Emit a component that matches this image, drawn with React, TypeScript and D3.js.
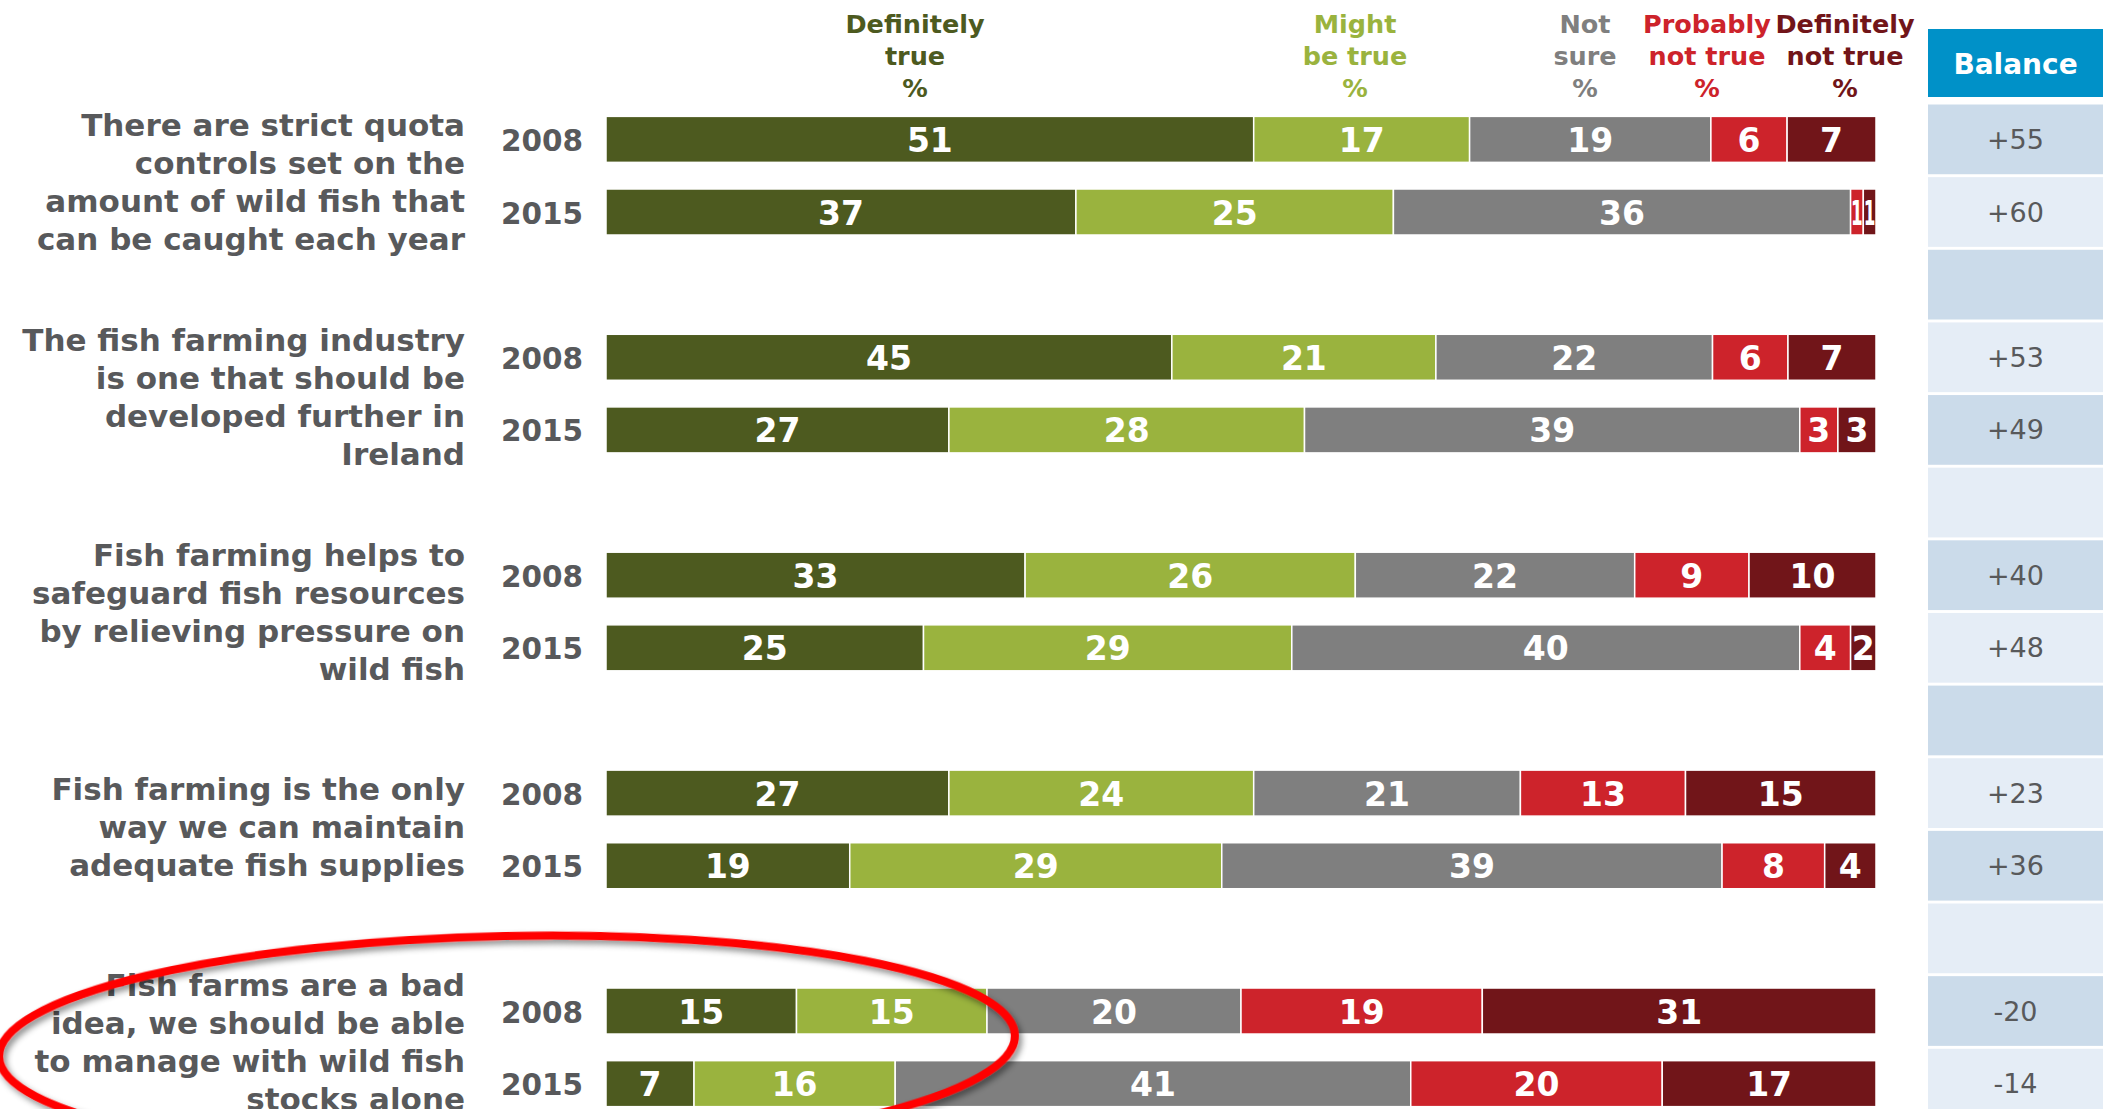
import React from "react";
import * as d3 from "d3";

// ---------- data ----------
const questions: string[][] = [
  ["There are strict quota", "controls set on the", "amount of wild fish that", "can be caught each year"],
  ["The fish farming industry", "is one that should be", "developed further in", "Ireland"],
  ["Fish farming helps to", "safeguard fish resources", "by relieving pressure on", "wild fish"],
  ["Fish farming is the only", "way we can maintain", "adequate fish supplies"],
  ["Fish farms are a bad", "idea, we should be able", "to manage with wild fish", "stocks alone"],
];
const years = ["2008", "2015"];
const categories = ["Definitely true", "Might be true", "Not sure", "Probably not true", "Definitely not true"];
const headerLines: string[][] = [
  ["Definitely", "true", "%"],
  ["Might", "be true", "%"],
  ["Not", "sure", "%"],
  ["Probably", "not true", "%"],
  ["Definitely", "not true", "%"],
];
// one value per bar: q1-2008, q1-2015, q2-2008, ...
const definitelyTrue = [51, 37, 45, 27, 33, 25, 27, 19, 15, 7];
const mightBeTrue = [17, 25, 21, 28, 26, 29, 24, 29, 15, 16];
const notSure = [19, 36, 22, 39, 22, 40, 21, 39, 20, 41];
const probablyNotTrue = [6, 1, 6, 3, 9, 4, 13, 8, 19, 20];
const definitelyNotTrue = [7, 1, 7, 3, 10, 2, 15, 4, 31, 17];
const balance = ["+55", "+60", "+53", "+49", "+40", "+48", "+23", "+36", "-20", "-14"];
const balanceTitle = "Balance";

// ---------- styles / layout ----------
const W = 2108;
const H = 1109;
const colors = ["#4d5a1f", "#9ab33e", "#7f7f7f", "#cd232b", "#711519"];
const labelGray = "#58595b";
const FONT = "'DejaVu Sans', Verdana, sans-serif";
const barX0 = 606;
const barX1 = 1876;
const barH = 46;
const headerCenters = [915, 1355, 1585, 1707, 1845];
const balX0 = 1928;
const balX1 = 2103;
const labelTop = 182;
const labelStep = 215;
const labelLine = 38.2;

export default function App() {
  React.useEffect(() => {
    document.body.style.margin = "0";
  }, []);

  const series = [definitelyTrue, mightBeTrue, notSure, probablyNotTrue, definitelyNotTrue];
  const nRows = questions.length * 3 - 1;
  const rowScale = d3
    .scaleBand<number>()
    .domain(d3.range(nRows))
    .range([104.5, 104.5 + 72.43 * nRows])
    .paddingInner(0.04);
  const bw = rowScale.bandwidth();
  const rowCenter = (r: number) => (rowScale(r) as number) + bw / 2;

  const bars = questions.flatMap((q, qi) =>
    years.map((yr, yi) => {
      const idx = qi * 2 + yi;
      const vals = series.map((s) => s[idx]);
      const total = d3.sum(vals);
      const x = d3.scaleLinear().domain([0, total]).range([barX0, barX1]);
      const cum = d3.cumsum(vals);
      const segs = vals.map((v, ci) => ({ v, ci, x0: x(cum[ci] - v), x1: x(cum[ci]) }));
      return { qi, yi, yr, idx, row: qi * 3 + yi, segs };
    })
  );

  const valueFont = 33;

  return (
    <svg width={W} height={H} style={{ display: "block", position: "absolute", left: 0, top: 0 }} fontFamily={FONT}>
      <defs>
        <filter id="shadow" x="-10%" y="-30%" width="120%" height="160%">
          <feDropShadow dx="3" dy="4" stdDeviation="3" floodColor="#000" floodOpacity="0.45" />
        </filter>
      </defs>
      <rect width={W} height={H} fill="#fff" />

      {/* header labels */}
      {headerLines.map((lines, ci) => (
        <text key={"h" + ci} x={headerCenters[ci]} textAnchor="middle" fontWeight="bold" fontSize={25.5} fill={colors[ci]}>
          {lines.map((l, li) => (
            <tspan key={li} x={headerCenters[ci]} y={33 + li * 32}>
              {l}
            </tspan>
          ))}
        </text>
      ))}

      {/* balance header */}
      <rect x={balX0} y={29} width={balX1 - balX0} height={68} fill="#0091c8" />
      <text x={(balX0 + balX1) / 2} y={64} textAnchor="middle" dominantBaseline="central" fontWeight="bold" fontSize={28} fill="#fff">
        {balanceTitle}
      </text>

      {/* balance cells */}
      {d3.range(nRows).map((r) => (
        <rect key={"c" + r} x={balX0} y={rowScale(r)} width={balX1 - balX0} height={bw} fill={r % 2 === 0 ? "#cbdbea" : "#e5edf6"} />
      ))}
      {bars.map((b) => (
        <text
          key={"bal" + b.idx}
          x={(balX0 + balX1) / 2}
          y={rowCenter(b.row)}
          textAnchor="middle"
          dominantBaseline="central"
          fontSize={27}
          fill={labelGray}
        >
          {balance[b.idx]}
        </text>
      ))}

      {/* question labels */}
      {questions.map((lines, qi) => {
        const mid = labelTop + qi * labelStep;
        return (
          <text key={"q" + qi} textAnchor="end" fontWeight="bold" fontSize={31} fill={labelGray}>
            {lines.map((l, li) => (
              <tspan key={li} x={465} y={mid + (li - (lines.length - 1) / 2) * labelLine} dominantBaseline="central">
                {l}
              </tspan>
            ))}
          </text>
        );
      })}

      {/* year labels */}
      {bars.map((b) => (
        <text
          key={"y" + b.idx}
          x={583}
          y={rowCenter(b.row) + 1.5}
          textAnchor="end"
          dominantBaseline="central"
          fontWeight="bold"
          fontSize={29.5}
          fill={labelGray}
        >
          {b.yr}
        </text>
      ))}

      {/* bars */}
      {bars.map((b) => (
        <g key={"b" + b.idx}>
          {b.segs.map((s) => (
            <rect
              key={s.ci}
              x={s.x0}
              y={rowCenter(b.row) - barH / 2}
              width={s.x1 - s.x0}
              height={barH}
              fill={colors[s.ci]}
              stroke="#fff"
              strokeWidth={1.5}
            />
          ))}
          {b.segs.map((s) => {
            const w = s.x1 - s.x0;
            const txt = String(s.v);
            const est = txt.length * 0.696 * valueFont;
            const squeeze = est > w - 2;
            return (
              <text
                key={"t" + s.ci}
                x={(s.x0 + s.x1) / 2}
                y={rowCenter(b.row) + 1}
                textAnchor="middle"
                dominantBaseline="central"
                fontWeight="bold"
                fontSize={valueFont}
                fill="#fff"
                {...(squeeze ? { textLength: Math.max(w - 1, 6), lengthAdjust: "spacingAndGlyphs" } : {})}
              >
                {txt}
              </text>
            );
          })}
        </g>
      ))}

      {/* red highlight ellipse */}
      <ellipse
        cx={507}
        cy={1046}
        rx={508}
        ry={110}
        transform="rotate(-1.2 507 1046)"
        fill="none"
        stroke="#ff0000"
        strokeWidth={8}
        filter="url(#shadow)"
      />
    </svg>
  );
}
